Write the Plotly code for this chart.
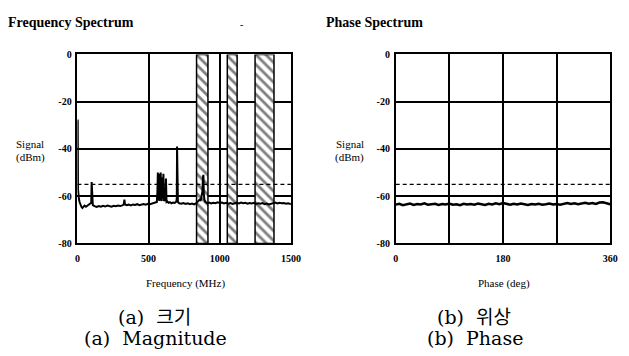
import plotly.graph_objects as go

# ---------------- data ----------------
freq_mhz = [0, 2, 4, 7, 10, 15, 20, 28, 35, 42,
            50, 60, 70, 80, 90, 97, 100, 103, 108, 120,
            135, 150, 165, 180, 195, 210, 225, 240, 255, 270,
            285, 300, 315, 325, 330, 334, 345, 360, 375, 390,
            405, 420, 435, 450, 465, 480, 495, 510, 525, 540,
            552, 558, 562, 565, 568, 572, 575, 578, 582, 585,
            588, 592, 596, 600, 604, 608, 614, 618, 622, 626,
            632, 640, 650, 660, 672, 684, 694, 698, 700, 702,
            706, 715, 730, 745, 760, 775, 790, 805, 820, 835,
            848, 858, 866, 872, 878, 882, 885, 888, 892, 900,
            912, 925, 940, 955, 970, 985, 1000, 1015, 1030, 1045,
            1060, 1075, 1090, 1105, 1120, 1135, 1150, 1165, 1180, 1195,
            1210, 1225, 1240, 1255, 1270, 1285, 1300, 1315, 1330, 1345,
            1360, 1375, 1390, 1405, 1420, 1435, 1450, 1465, 1480, 1495,
            1500]
magnitude_dbm = [-28, -28, -57, -60, -61, -62.5, -63.5, -64.5, -65, -64.5,
                 -64, -64.5, -64, -63.5, -63, -62.8, -54, -63, -63.8, -64.2,
                 -64.6, -64.2, -64.5, -64.1, -64.4, -64.0, -64.3, -64.5, -64.1, -64.3,
                 -64.0, -64.2, -63.9, -63.6, -61.5, -63.5, -63.8, -63.6, -63.9, -63.5,
                 -63.7, -63.4, -63.8, -63.5, -63.3, -63.6, -63.2, -63.4, -63.1, -63.0,
                 -62.8, -62.5, -58, -50, -61.5, -50.5, -62, -51, -61, -50,
                 -61.5, -62, -52, -61, -50.5, -62, -61.5, -62, -52.5, -62.5,
                 -62.3, -62.8, -62.5, -63, -62.7, -62.9, -62.4, -61, -39, -61.5,
                 -62.5, -63, -63.2, -62.9, -63.3, -63, -63.4, -63.1, -63.5, -63,
                 -62.2, -61.5, -62, -60.5, -58, -52, -51, -59, -61.5, -62.5,
                 -63, -62.7, -63.1, -62.8, -63, -62.6, -62.9, -62.7, -63.1, -62.8,
                 -63.2, -62.9, -63.3, -63, -62.8, -63.1, -62.7, -63, -62.8, -63.2,
                 -62.9, -63.1, -62.8, -63.3, -63, -63.2, -62.9, -63.4, -63.1, -63.5,
                 -63.2, -63.0, -62.7, -63.1, -62.8, -63.0, -62.9, -63.2, -63.0, -63.3,
                 -63.1]

phase_deg = [0, 6, 12, 18, 24, 30, 36, 42, 48, 54,
             60, 66, 72, 78, 84, 90, 96, 102, 108, 114,
             120, 126, 132, 138, 144, 150, 156, 162, 168, 174,
             180, 186, 192, 198, 204, 210, 216, 222, 228, 234,
             240, 246, 252, 258, 264, 270, 276, 282, 288, 294,
             300, 306, 312, 318, 324, 330, 336, 342, 348, 354,
             360]
phase_dbm = [-63.6, -63.2, -63.8, -63.4, -63.1, -63.7, -63.3, -63.5, -63.0, -63.6,
             -63.4, -63.2, -63.7, -63.3, -63.5, -63.1, -63.6, -63.4, -63.8, -63.2,
             -63.5, -63.3, -63.6, -63.1, -63.4, -63.7, -63.2, -63.5, -63.0, -63.4,
             -62.9, -63.3, -63.6, -63.2, -63.5, -63.1, -63.4, -63.7, -63.3, -63.5,
             -63.2, -63.6, -63.4, -63.1, -63.5, -63.3, -63.6, -63.2, -62.9, -63.3,
             -63.0, -63.4, -63.1, -62.8, -63.2, -62.9, -63.3, -62.7, -62.6, -63.0,
             -63.4]

threshold_dbm = -55
band_start_mhz = [837, 1053, 1248]
band_end_mhz = [917, 1122, 1381]

freq_ticks = [0, 500, 1000, 1500]
freq_ticktext = ["0", "500", "1000", "1500"]
phase_ticks = [0, 90, 180, 270, 360]
phase_ticktext = ["0", "", "180", "", "360"]
dbm_ticks = [-80, -60, -40, -20, 0]
dbm_ticktext = ["-80", "-60", "-40", "-20", "0"]

# ---------------- figure ----------------
W, H = 629, 356
def px(x):
    return x / W
def py(y):
    return 1 - y / H

SERIF = "Times New Roman, Liberation Serif, Times, serif"

fig = go.Figure()

# hatched bands (bars from -80 to 0)
band_mid = [(a + b) / 2 for a, b in zip(band_start_mhz, band_end_mhz)]
band_w = [b - a for a, b in zip(band_start_mhz, band_end_mhz)]
fig.add_trace(go.Bar(
    x=band_mid, y=[80] * len(band_mid), base=[-80] * len(band_mid), width=band_w,
    marker=dict(color="white", line=dict(color="black", width=1.5),
                pattern=dict(shape="\\", fgcolor="black", bgcolor="white",
                             size=7, solidity=0.4, fillmode="overlay")),
    xaxis="x", yaxis="y", hoverinfo="skip"))

# threshold dashed lines
fig.add_trace(go.Scatter(x=[freq_ticks[0], freq_ticks[-1]], y=[threshold_dbm] * 2,
                         mode="lines", line=dict(color="black", width=1.3, dash="4px,3px"),
                         xaxis="x", yaxis="y"))
fig.add_trace(go.Scatter(x=[phase_ticks[0], phase_ticks[-1]], y=[threshold_dbm] * 2,
                         mode="lines", line=dict(color="black", width=1.3, dash="4px,3px"),
                         xaxis="x2", yaxis="y2"))

# spectra
fig.add_trace(go.Scatter(x=freq_mhz, y=magnitude_dbm, mode="lines",
                         line=dict(color="black", width=2), xaxis="x", yaxis="y"))
fig.add_trace(go.Scatter(x=phase_deg, y=phase_dbm, mode="lines",
                         line=dict(color="black", width=2.5), xaxis="x2", yaxis="y2"))

tickfont = dict(family=SERIF, size=10, color="black", weight="bold")
common_x = dict(showgrid=True, gridcolor="black", gridwidth=1.5, zeroline=False,
                showline=True, linecolor="black", linewidth=1.5, mirror=True,
                ticks="", tickfont=tickfont, ticklabelstandoff=5, fixedrange=True)
common_y = dict(showgrid=True, gridcolor="black", gridwidth=1.5, zeroline=False,
                showline=True, linecolor="black", linewidth=1.5, mirror=True,
                ticks="", tickfont=tickfont, range=[-80, 0],
                tickvals=dbm_ticks, ticktext=dbm_ticktext, ticklabelstandoff=2,
                fixedrange=True)

x1d = [px(76), px(294)]
x2d = [px(401), px(620)]
yd = [py(246), py(51)]

fig.update_layout(
    width=W, height=H, margin=dict(l=0, r=0, t=0, b=0),
    paper_bgcolor="white", plot_bgcolor="white", showlegend=False,
    barmode="overlay", font=dict(family=SERIF),
    xaxis=dict(common_x, domain=x1d, anchor="y", range=[0, 1500],
               tickvals=freq_ticks, ticktext=freq_ticktext),
    yaxis=dict(common_y, domain=yd, anchor="x"),
    xaxis2=dict(common_x, domain=x2d, anchor="y2", range=[0, 360],
                tickvals=phase_ticks, ticktext=phase_ticktext),
    yaxis2=dict(common_y, domain=yd, anchor="x2"),
)

ann = []
def text(t, x, y, size, bold=False, family=SERIF, xanchor="center"):
    ann.append(dict(text=t, x=px(x), y=py(y), xref="paper", yref="paper",
                    showarrow=False, xanchor=xanchor, yanchor="middle",
                    font=dict(family=family, size=size, color="black",
                              weight="bold" if bold else "normal")))

text("Frequency Spectrum", 3, 18, 14, bold=True, xanchor="left")
text("Phase Spectrum", 328, 18, 14, bold=True, xanchor="left")
text("-", 244, 20, 10)
text("Signal", 28, 143, 11)
text("(dBm)", 28, 157, 11)
text("Signal", 354, 143, 11)
text("(dBm)", 354, 157, 11)
text("Frequency (MHz)", 186, 287, 11)
text("Phase (deg)", 512, 287, 11)
cap = "DejaVu Serif, Noto Sans CJK KR, serif"
text("(a)\u00a0 크기", 155, 322, 19, family=cap)
text("(a)\u00a0 Magnitude", 156, 344, 19, family=cap)
text("(b)\u00a0 위상", 481, 322, 19, family=cap)
text("(b)\u00a0 Phase", 482, 344, 19, family=cap)
fig.update_layout(annotations=ann)

fig.write_html("out.html", config={"displayModeBar": False})
